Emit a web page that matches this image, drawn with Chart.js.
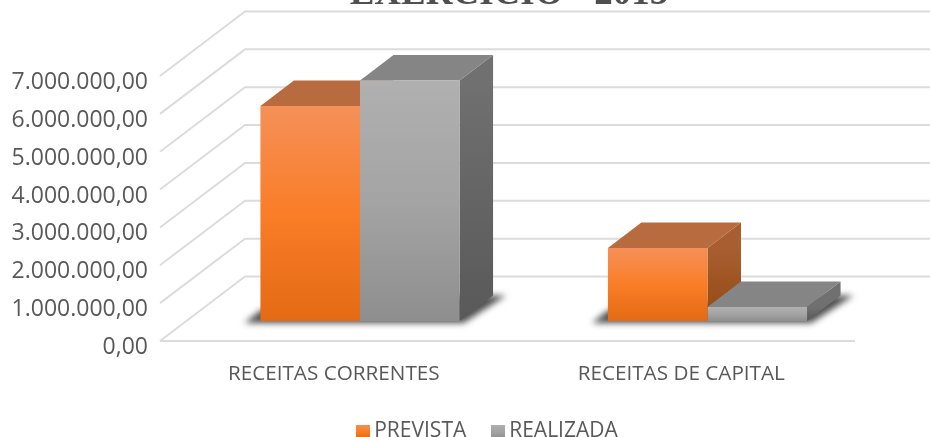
<!DOCTYPE html>
<html>
<head>
<meta charset="utf-8">
<script src="https://cdn.jsdelivr.net/npm/chart.js@4/dist/chart.umd.min.js"></script>
<style>
  html, body { margin: 0; padding: 0; background: #fff; overflow: hidden; }
  #wrap { position: relative; width: 930px; height: 437px; }
</style>
</head>
<body>
<div id="wrap"><canvas id="chart"></canvas></div>
<script>
// ======================= DATA =======================
const categories = ["RECEITAS CORRENTES", "RECEITAS DE CAPITAL"];
const prevista = [5680000, 1930000];
const realizada = [6350000, 370000];
const tituloTexto = "EXERCÍCIO - 2015";

// ======================= 3D LOOK =======================
const wallDx = 85, wallDy = -64.5;     // floor/wall depth
const barShiftX = 26.25, barShiftY = -20; // bars stand in the middle of the floor
const boxDx = 33.5, boxDy = -25.5;     // depth of each box
const legendShiftX = 62.75;            // legend sits right of the page centre
const gridColor = "#dcdcdc";
const fontName = "'Open Sans'";

const looks = [
  { front: ["#f59058", "#fa7d28", "#e46a14"], top: "#b86b3f", side: ["#a85e30", "#944a12"] },
  { front: ["#b0b0b0", "#a4a4a4", "#8e8e8e"], top: "#858585", side: ["#707070", "#595959"] }
];

function frontGradient(ctx, yTop, yBottom, colors) {
  const g = ctx.createLinearGradient(0, yTop, 0, yBottom);
  g.addColorStop(0, colors[0]);
  g.addColorStop(0.5, colors[1]);
  g.addColorStop(1, colors[2]);
  return g;
}

function legendSwatch(colors) {
  const c = document.createElement("canvas");
  c.width = 14;
  c.height = 14;
  const x = c.getContext("2d");
  x.fillStyle = frontGradient(x, 0, 14, colors);
  x.fillRect(0, 0, 14, 14);
  return c;
}

function poly(ctx, pts, fill) {
  ctx.beginPath();
  pts.forEach((p, i) => i ? ctx.lineTo(p[0], p[1]) : ctx.moveTo(p[0], p[1]));
  ctx.closePath();
  ctx.fillStyle = fill;
  ctx.fill();
}

// ======================= WALLS, BOX SIDES =======================
const box3d = {
  id: "box3d",
  afterLayout(chart) {
    chart.legend.left += legendShiftX;
    chart.legend.right += legendShiftX;
  },
  beforeDatasetsDraw(chart) {
    const ctx = chart.ctx, area = chart.chartArea, y = chart.scales.y;
    ctx.save();
    ctx.strokeStyle = gridColor;
    ctx.lineWidth = 2;
    y.ticks.forEach(t => {
      const py = y.getPixelForValue(t.value);
      ctx.beginPath();
      ctx.moveTo(area.left, py);
      ctx.lineTo(area.left + wallDx, py + wallDy);
      ctx.lineTo(chart.width, py + wallDy);
      ctx.stroke();
    });
    const py0 = y.getPixelForValue(0);
    ctx.beginPath();
    ctx.moveTo(area.left, py0);
    ctx.lineTo(area.right, py0);
    ctx.stroke();
    ctx.restore();

    ctx.save();
    ctx.translate(barShiftX, barShiftY);
    const m0 = chart.getDatasetMeta(0), m1 = chart.getDatasetMeta(1);
    // shadow on the floor
    m0.data.forEach((b0, i) => {
      const l = b0.x - b0.width / 2, r = m1.data[i].x + m1.data[i].width / 2, base = b0.base;
      ctx.save();
      ctx.filter = "blur(3px)";
      poly(ctx, [[l - 16, base + 2], [r + 4, base + 2], [r + boxDx + 13, base + boxDy], [r, base + boxDy], [l + 2, base - 12]], "#505050");
      ctx.restore();
    });
    // orange goes first, the grey top sits over its side
    [m0, m1].forEach((meta, d) => {
      meta.data.forEach(b => {
        const l = b.x - b.width / 2, r = b.x + b.width / 2;
        const g = ctx.createLinearGradient(0, b.y, 0, b.base);
        g.addColorStop(0, looks[d].side[0]);
        g.addColorStop(1, looks[d].side[1]);
        poly(ctx, [[r, b.y], [r + boxDx, b.y + boxDy], [r + boxDx, b.base + boxDy], [r, b.base]], g);
        poly(ctx, [[l, b.y], [r, b.y], [r + boxDx, b.y + boxDy], [l + boxDx, b.y + boxDy]], looks[d].top);
      });
    });
    ctx.restore();

    // the library's own bars get drawn shifted too
    ctx.save();
    ctx.translate(barShiftX, barShiftY);
  },
  afterDatasetsDraw(chart) {
    chart.ctx.restore();
  },
  afterDraw(chart) {
    const ctx = chart.ctx;
    ctx.save();
    ctx.font = "bold 37px 'Liberation Serif'";
    ctx.fillStyle = "#505050";
    ctx.textAlign = "center";
    ctx.textBaseline = "alphabetic";
    ctx.fillText(tituloTexto, 509, 4);
    ctx.restore();
  }
};

function barColor(d) {
  return c => {
    const y = c.chart.scales.y;
    if (!c.chart.chartArea || !c.parsed) return looks[d].front[1];
    return frontGradient(c.chart.ctx, y.getPixelForValue(c.parsed.y), y.getPixelForValue(0), looks[d].front);
  };
}

const chart = new Chart(document.getElementById("chart"), {
  type: "bar",
  data: {
    labels: categories,
    datasets: [
      { label: "PREVISTA", data: prevista, backgroundColor: barColor(0), clip: false },
      { label: "REALIZADA", data: realizada, backgroundColor: barColor(1), clip: false }
    ]
  },
  options: {
    responsive: true,
    maintainAspectRatio: false,
    animation: false,
    layout: { padding: { left: 0, right: 75, top: 76, bottom: -15 } },
    datasets: { bar: { barPercentage: 1, categoryPercentage: 0.573 } },
    scales: {
      x: {
        afterFit(scale) { scale.height = 48.5; },
        grid: { display: false },
        border: { display: false },
        ticks: { color: "#595959", font: { family: fontName, size: 20.7 }, padding: 13 }
      },
      y: {
        min: 0,
        max: 7000000,
        afterFit(scale) { scale.width = 160; },
        grid: { display: false },
        border: { display: false },
        ticks: {
          stepSize: 1000000,
          color: "#595959",
          padding: 4,
          labelOffset: 6.5,
          font: { family: fontName, size: 23 },
          callback: v => v.toLocaleString("pt-BR", { minimumFractionDigits: 2 })
        }
      }
    },
    plugins: {
      legend: {
        position: "bottom",
        labels: {
          usePointStyle: true,
          pointStyleWidth: 1,
          padding: 31.5,
          color: "#595959",
          font: { family: fontName, size: 21 },
          generateLabels(chart) {
            return chart.data.datasets.map((ds, i) => ({
              text: ds.label,
              pointStyle: legendSwatch(looks[i].front),
              fillStyle: looks[i].front[1],
              strokeStyle: "transparent",
              lineWidth: 0,
              fontColor: "#595959",
              datasetIndex: i
            }));
          }
        }
      },
      tooltip: { enabled: false }
    }
  },
  plugins: [box3d]
});
</script>
</body>
</html>
